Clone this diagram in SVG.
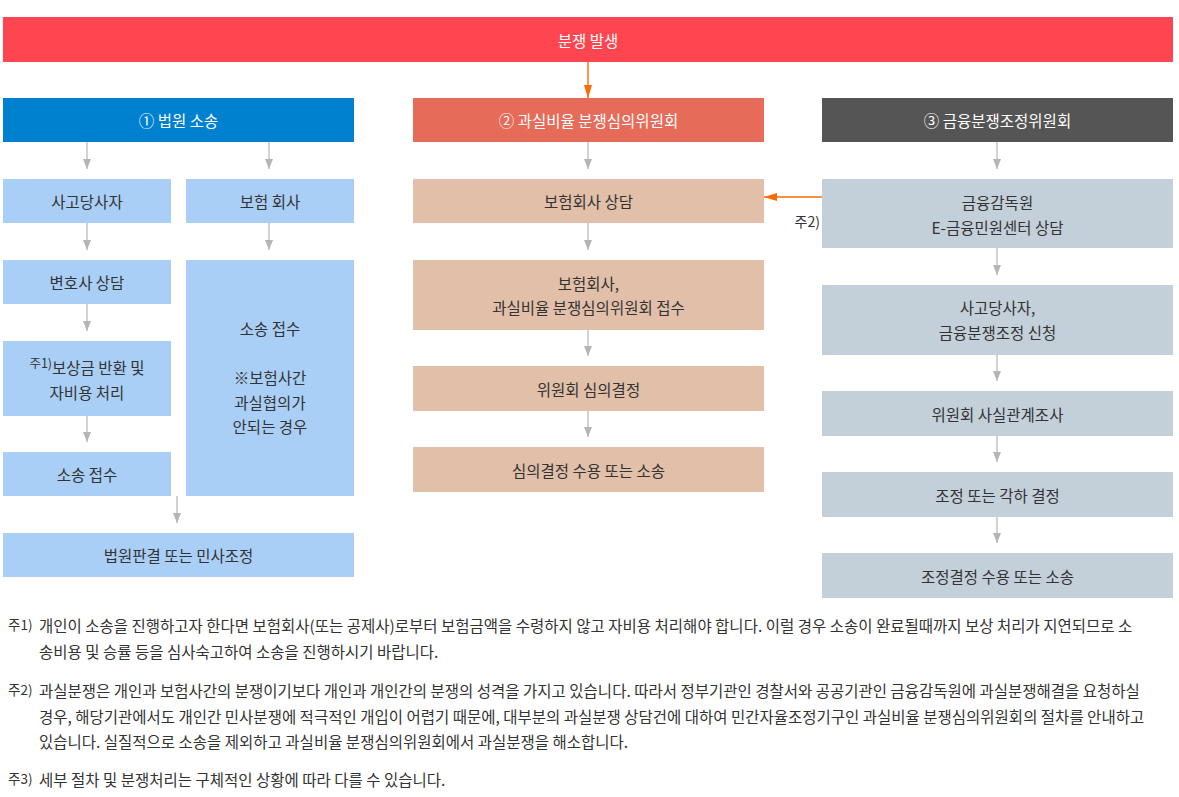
<svg xmlns="http://www.w3.org/2000/svg" width="1179" height="797" viewBox="0 0 1179 797">
<style>
text{font-family:"Noto Sans CJK KR","Noto Sans",sans-serif;font-size:15.5px;fill:#333;}
.c{text-anchor:middle;dominant-baseline:central;}
.w{fill:#fff;}
.b1{fill:#aacff6;}
.b2{fill:#e1bfa8;}
.b3{fill:#c3cfd9;}
.ga{stroke:#b5b5b5;stroke-width:1.2;fill:none;marker-end:url(#ag);}
.oa{stroke:#ff6a00;stroke-width:1.4;fill:none;marker-end:url(#ao);}
.fn{dominant-baseline:central;}
.lb{dominant-baseline:central;font-size:13.5px;}
</style>
<defs>
<marker id="ag" markerUnits="userSpaceOnUse" markerWidth="11" markerHeight="9" refX="10" refY="4" orient="auto"><path d="M0,0 L10,4 L0,8 z" fill="#b5b5b5"/></marker>
<marker id="ao" markerUnits="userSpaceOnUse" markerWidth="14" markerHeight="9" refX="13" refY="4" orient="auto"><path d="M0,0 L13,4 L0,8 z" fill="#ff6a00"/></marker>
</defs>
<rect width="1179" height="797" fill="#fff"/>

<g id="connectors">
<line class="oa" x1="588" y1="62" x2="588" y2="98"/>
<line class="oa" x1="822" y1="197" x2="764" y2="197"/>
<line class="ga" x1="87" y1="142" x2="87" y2="169"/>
<line class="ga" x1="269" y1="142" x2="269" y2="169"/>
<line class="ga" x1="87" y1="223" x2="87" y2="250"/>
<line class="ga" x1="269" y1="223" x2="269" y2="250"/>
<line class="ga" x1="87" y1="304" x2="87" y2="331"/>
<line class="ga" x1="87" y1="416" x2="87" y2="442"/>
<line class="ga" x1="177" y1="496" x2="177" y2="523"/>
<line class="ga" x1="588" y1="142" x2="588" y2="169"/>
<line class="ga" x1="588" y1="223" x2="588" y2="250"/>
<line class="ga" x1="588" y1="330" x2="588" y2="356"/>
<line class="ga" x1="588" y1="411" x2="588" y2="437"/>
<line class="ga" x1="997" y1="142" x2="997" y2="169"/>
<line class="ga" x1="997" y1="248" x2="997" y2="275"/>
<line class="ga" x1="997" y1="355" x2="997" y2="381"/>
<line class="ga" x1="997" y1="436" x2="997" y2="462"/>
<line class="ga" x1="997" y1="517" x2="997" y2="543"/>
<text x="820" y="221" text-anchor="end" dominant-baseline="central" style="font-size:14px">주2)</text>
</g>

<g id="n-start"><rect x="3" y="17" width="1170" height="45" fill="#ff454f"/><text class="c w" x="588" y="40">분쟁 발생</text></g>

<g id="h1"><rect x="3" y="98" width="351" height="44" fill="#0081d0"/><text class="c w" x="178.5" y="120">① 법원 소송</text></g>
<g id="h2"><rect x="413" y="98" width="351" height="44" fill="#e66b59"/><text class="c w" x="588.5" y="120">② 과실비율 분쟁심의위원회</text></g>
<g id="h3"><rect x="822" y="98" width="351" height="44" fill="#555555"/><text class="c w" x="997.5" y="120">③ 금융분쟁조정위원회</text></g>

<g id="a1"><rect class="b1" x="3" y="179" width="168" height="44"/><text class="c" x="87" y="201">사고당사자</text></g>
<g id="a2"><rect class="b1" x="186" y="179" width="168" height="44"/><text class="c" x="270" y="201">보험 회사</text></g>
<g id="a3"><rect class="b1" x="3" y="260" width="168" height="44"/><text class="c" x="87" y="282">변호사 상담</text></g>
<g id="a4"><rect class="b1" x="186" y="260" width="168" height="236"/>
<text class="c" x="270" y="328">소송 접수</text>
<text class="c" x="270" y="377">※보험사간</text>
<text class="c" x="270" y="401.5">과실협의가</text>
<text class="c" x="270" y="426">안되는 경우</text></g>
<g id="a5"><rect class="b1" x="3" y="341" width="168" height="75"/>
<text class="c" x="87" y="367"><tspan style="font-size:12.5px" dy="-5">주1)</tspan><tspan dy="5">보상금 반환 및</tspan></text>
<text class="c" x="87" y="392">자비용 처리</text></g>
<g id="a6"><rect class="b1" x="3" y="452" width="168" height="44"/><text class="c" x="87" y="474">소송 접수</text></g>
<g id="a7"><rect class="b1" x="3" y="533" width="351" height="44"/><text class="c" x="178.5" y="555">법원판결 또는 민사조정</text></g>

<g id="b1"><rect class="b2" x="413" y="179" width="351" height="44"/><text class="c" x="588.5" y="201">보험회사 상담</text></g>
<g id="b2n"><rect class="b2" x="413" y="260" width="351" height="70"/><text class="c" x="588.5" y="283">보험회사,</text><text class="c" x="588.5" y="307">과실비율 분쟁심의위원회 접수</text></g>
<g id="b3n"><rect class="b2" x="413" y="366" width="351" height="45"/><text class="c" x="588.5" y="388.5">위원회 심의결정</text></g>
<g id="b4n"><rect class="b2" x="413" y="447" width="351" height="45"/><text class="c" x="588.5" y="469.5">심의결정 수용 또는 소송</text></g>

<g id="c1"><rect class="b3" x="822" y="179" width="351" height="69"/><text class="c" x="997.5" y="201.5">금융감독원</text><text class="c" x="997.5" y="226.5">E-금융민원센터 상담</text></g>
<g id="c2"><rect class="b3" x="822" y="285" width="351" height="70"/><text class="c" x="997.5" y="307">사고당사자,</text><text class="c" x="997.5" y="332">금융분쟁조정 신청</text></g>
<g id="c3"><rect class="b3" x="822" y="391" width="351" height="45"/><text class="c" x="997.5" y="413.5">위원회 사실관계조사</text></g>
<g id="c4"><rect class="b3" x="822" y="472" width="351" height="45"/><text class="c" x="997.5" y="494.5">조정 또는 각하 결정</text></g>
<g id="c5"><rect class="b3" x="822" y="553" width="351" height="45"/><text class="c" x="997.5" y="575.5">조정결정 수용 또는 소송</text></g>

<g id="notes">
<text class="lb" x="8" y="624">주1)</text>
<text class="fn" x="39" y="625">개인이 소송을 진행하고자 한다면 보험회사(또는 공제사)로부터 보험금액을 수령하지 않고 자비용 처리해야 합니다. 이럴 경우 소송이 완료될때까지 보상 처리가 지연되므로 소</text>
<text class="fn" x="39" y="651">송비용 및 승률 등을 심사숙고하여 소송을 진행하시기 바랍니다.</text>
<text class="lb" x="8" y="689">주2)</text>
<text class="fn" x="39" y="690">과실분쟁은 개인과 보험사간의 분쟁이기보다 개인과 개인간의 분쟁의 성격을 가지고 있습니다. 따라서 정부기관인 경찰서와 공공기관인 금융감독원에 과실분쟁해결을 요청하실</text>
<text class="fn" x="39" y="715.5">경우, 해당기관에서도 개인간 민사분쟁에 적극적인 개입이 어렵기 때문에, 대부분의 과실분쟁 상담건에 대하여 민간자율조정기구인 과실비율 분쟁심의위원회의 절차를 안내하고</text>
<text class="fn" x="39" y="741">있습니다. 실질적으로 소송을 제외하고 과실비율 분쟁심의위원회에서 과실분쟁을 해소합니다.</text>
<text class="lb" x="8" y="778">주3)</text>
<text class="fn" x="39" y="779">세부 절차 및 분쟁처리는 구체적인 상황에 따라 다를 수 있습니다.</text>
</g>
</svg>
